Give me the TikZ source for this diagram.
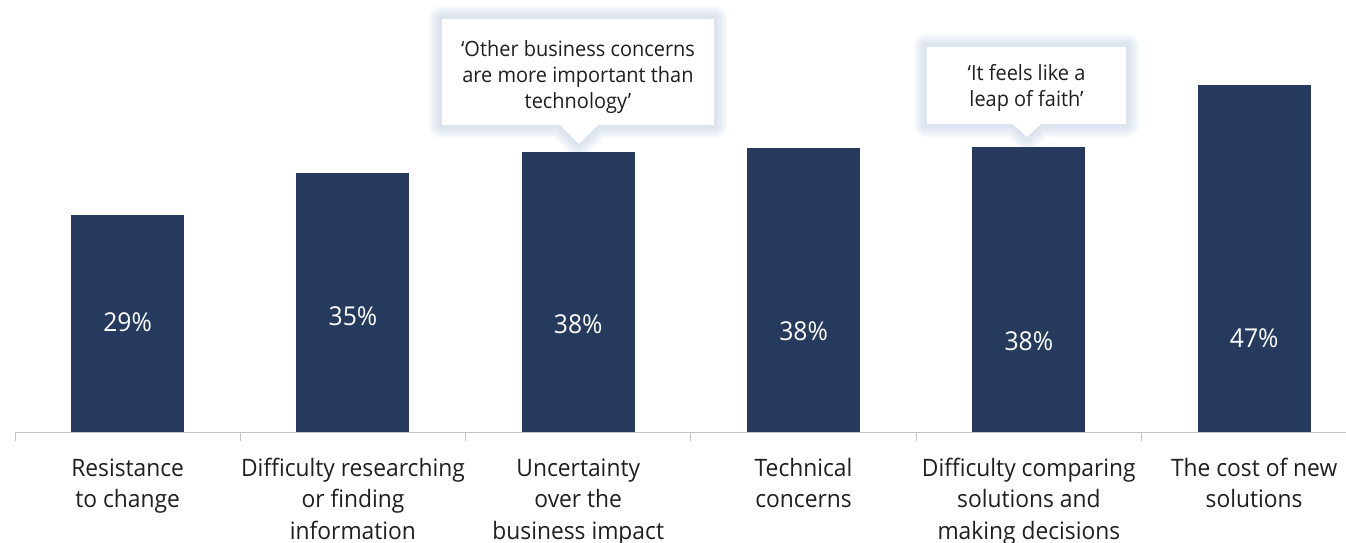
\documentclass[tikz,border=0pt]{standalone}
\usepackage{fontspec}
\setmainfont{Open Sans}[FakeStretch=0.95]
\usetikzlibrary{positioning}
\usetikzlibrary{backgrounds}

\definecolor{barblue}{HTML}{263A5E}
\definecolor{axisgray}{HTML}{C4C4C4}
\definecolor{glowblue}{HTML}{C3D0E4}

% outline of a speech bubble: box node, tip coordinate, half width of the pointer
\newcommand\bubblepath[3]{(#1.north west) -- (#1.north east) -- (#1.south east)
  -- ([xshift=#3pt]#2 |- #1.south) -- (#2) -- ([xshift=-#3pt]#2 |- #1.south)
  -- (#1.south west) -- cycle}

\begin{document}
\begin{tikzpicture}[
    x=1pt, y=-1pt,
    bar/.style={fill=barblue, minimum width=113pt, inner sep=0pt, anchor=south},
    pct/.style={text=white, font=\fontsize{26}{30}\selectfont, anchor=base, inner sep=0pt},
    cat/.style={align=center, text=black!88, font=\fontsize{24}{31.5}\selectfont, anchor=base, inner sep=0pt},
    box/.style={inner sep=0pt},
    quote/.style={align=center, text=black!88, font=\fontsize{21}{26}\selectfont, inner sep=0pt},
    glow/.style={draw=glowblue, opacity=.13, line join=round, xshift=1pt, yshift=-2pt}
  ]
  \useasboundingbox (0,0) rectangle (1346,543);

  % axis
  \draw[axisgray, line width=1pt] (15,432) -- (1346,432);
  \foreach \i in {0,...,5}
    \draw[axisgray, line width=1pt] (15+225.3*\i,432) -- ++(0,9);

  % bars
  \foreach \i/\top/\val/\ly/\n/\txt in {
      0/215/29/322/2/{Resistance\\to change},
      1/173/35/316/3/{Difficulty researching\\or finding\\information},
      2/152/38/324/3/{Uncertainty\\over the\\business impact},
      3/148/38/331/2/{Technical\\concerns},
      4/147/38/341/3/{Difficulty comparing\\solutions and\\making decisions},
      5/85/47/338/2/{The cost of new\\solutions}} {
    \pgfmathsetmacro\cx{15+225.3*(\i+0.5)}
    \pgfmathsetmacro\h{432-\top}
    \pgfmathsetmacro\by{476+31.5*(\n-1)}
    \node[bar, minimum height=\h pt] (bar\i) at (\cx,432) {};
    \node[pct] (pct\i) at (\cx,\ly+9.5) {\val\%};
    \node[cat] (cat\i) at (\cx,\by) {\txt};
  }

  % callouts
  \node[box, minimum width=272pt, minimum height=106pt] (qone) at (578,72) {};
  \node[quote] (qonetext) at ([yshift=-5pt]qone.center)
    {‘Other business concerns\\are more important than\\technology’};
  \coordinate (qonetip) at (579,144);
  \node[box, minimum width=199pt, minimum height=77pt] (qtwo) at (1026.5,85.5) {};
  \node[quote] (qtwotext) at ([yshift=-2.5pt]qtwo.center)
    {‘It feels like a\\leap of faith’};
  \coordinate (qtwotip) at (1027,137);

  \begin{scope}[on background layer]
    \foreach \w in {26,22,18,14,10,6,3} {
      \draw[glow, line width=\w pt] \bubblepath{qone}{qonetip}{19};
      \draw[glow, line width=\w pt] \bubblepath{qtwo}{qtwotip}{14};
    }
    \fill[white] \bubblepath{qone}{qonetip}{19};
    \fill[white] \bubblepath{qtwo}{qtwotip}{14};
  \end{scope}
\end{tikzpicture}
\end{document}
